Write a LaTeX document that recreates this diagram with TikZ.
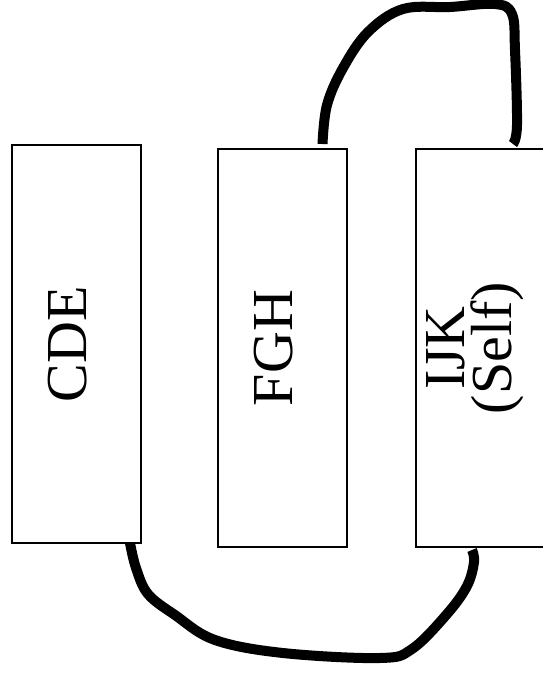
\documentclass[tikz,border=0pt]{standalone}
\usepackage{fontspec}
\setmainfont{Liberation Serif}
\newfontfamily\boxfont{Liberation Serif}
\usetikzlibrary{calc}

\begin{document}
\begin{tikzpicture}[x=1pt,y=-1pt,
    box/.style={draw,line width=1.3pt,minimum width=129pt,minimum height=398pt,inner sep=0pt,outer sep=0pt},
    lbl/.style={rotate=90,align=center,inner sep=0pt,font=\boxfont\fontsize{58}{47}\selectfont},
    cable/.style={line width=10pt,line cap=butt,line join=round}]
    \useasboundingbox (0,0) rectangle (542,678);
    \begin{scope}[shift={(0,0)}]
      \node[box] (cde) at (76.5,344) {};
      \node[box] (fgh) at (282.5,348) {};
      \node[box] (ijk) at (480.5,348) {};
      \node[lbl] (cdet) at ([xshift=-9pt]cde.center) {CDE};
      \node[lbl] (fght) at ([xshift=-9pt]fgh.center) {FGH};
      \node[lbl] (ijkt) at ([xshift=-5pt]ijk.center) {IJK\\(Self)};
      % cables
      \draw[cable] plot[smooth,tension=.6] coordinates {([xshift=40pt,yshift=5pt]fgh.north) (327,105) (343,68) (368,32) (403,9) (450,7) (495,4) (512,14) (515,50) (517,125) ([xshift=97pt,yshift=5pt]ijk.north west)};
      \draw[cable] plot[smooth,tension=.6] coordinates {([xshift=-11pt]cde.south east) (136,568) (148,594) (175,615) (215,640) (283,653) (380,658) (412,649) (447,614) (467,586) (474,562) ([xshift=56pt,yshift=-3pt]ijk.south west)};
    \end{scope}
\end{tikzpicture}
\end{document}
